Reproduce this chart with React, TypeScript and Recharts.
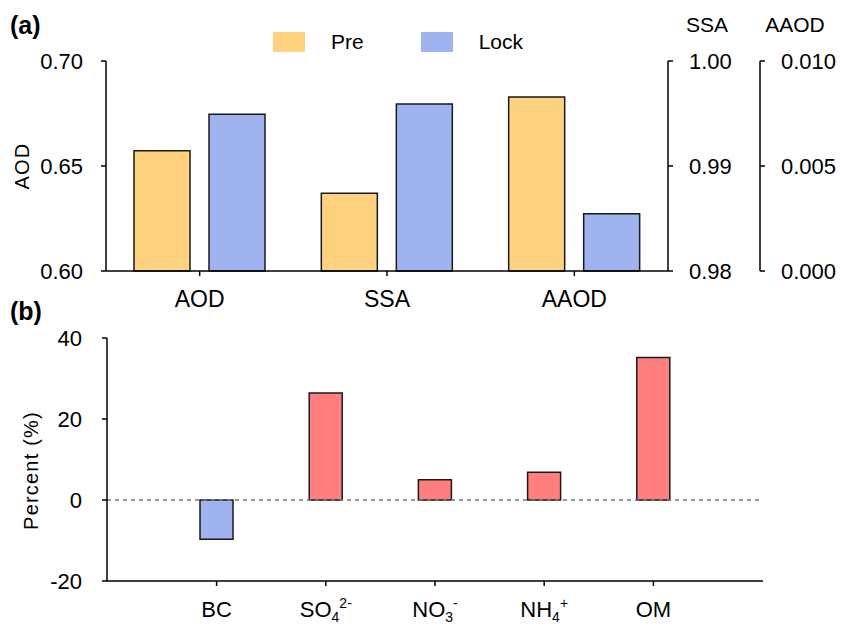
import React from "react";
import { BarChart, Bar, XAxis, YAxis, Legend, ReferenceLine, Cell } from "recharts";

// panel (a): AOD / SSA / AAOD before and during lockdown, each on its own axis
const groupNames = ["AOD", "SSA", "AAOD"];
const seriesNames = ["Pre", "Lock"];
const preValues = [0.6573, 0.9874, 0.00829];
const lockValues = [0.6746, 0.9959, 0.00273];

const aodTicks = [0.6, 0.65, 0.7];
const ssaTicks = [0.98, 0.99, 1.0];
const aaodTicks = [0, 0.005, 0.01];

// panel (b): percent change of aerosol species
const species = ["BC", "SO4", "NO3", "NH4", "OM"];
const speciesBase = ["BC", "SO", "NO", "NH", "OM"];
const speciesSub = ["", "4", "3", "4", ""];
const speciesSup = ["", "2-", "-", "+", ""];
const percentChange = [-9.7, 26.4, 5.0, 6.85, 35.2];
const percentTicks = [-20, 0, 20, 40];

const PRE = "#FFD280";
const LOCK = "#9EB3EF";
const UP = "#FF7F7F";
const FONT = "'Liberation Sans', Arial, sans-serif";

const panelA = groupNames.map((g, i) => {
  const row: Record<string, any> = { name: g };
  groupNames.forEach((k) => {
    row["pre" + k] = k === g ? preValues[i] : null;
    row["lock" + k] = k === g ? lockValues[i] : null;
  });
  return row;
});

const panelB = species.map((s, i) => ({ name: s, value: percentChange[i] }));

const axisLine = { stroke: "#000", strokeWidth: 1.5 };
const tickLine = { stroke: "#000", strokeWidth: 1.5 };
const tickFont = { fontSize: 22, fill: "#000" };

function SideTitle(props: any) {
  const { viewBox, text, dx, dy } = props;
  const cx = viewBox.x + dx;
  const cy = viewBox.y + viewBox.height / 2 + dy;
  return (
    <text
      x={cx}
      y={cy}
      transform={`rotate(-90 ${cx} ${cy})`}
      textAnchor="middle"
      dominantBaseline="central"
      fontSize={20}
      letterSpacing={1.2}
      fill="#000"
    >
      {text}
    </text>
  );
}

function TopTitle(props: any) {
  const { viewBox, text, dx } = props;
  return (
    <text x={viewBox.x + viewBox.width / 2 + dx} y={viewBox.y - 29} textAnchor="middle" fontSize={21} fill="#000">
      {text}
    </text>
  );
}

function SpeciesTick(props: any) {
  const { x, y, payload } = props;
  const i = payload.index;
  return (
    <text x={x} y={y + 29} textAnchor="middle" fontSize={22} fill="#000">
      {speciesBase[i]}
      {speciesSub[i] && (
        <tspan fontSize={14} dy={5}>
          {speciesSub[i]}
        </tspan>
      )}
      {speciesSup[i] && (
        <tspan fontSize={14} dy={-14}>
          {speciesSup[i]}
        </tspan>
      )}
    </text>
  );
}

function renderLegend(props: any) {
  const payload = props.payload || [];
  const items = seriesNames
    .map((n) => payload.find((p: any) => p.value === n))
    .filter(Boolean);
  return (
    <div style={{ display: "flex", alignItems: "center", paddingLeft: 273, fontSize: 21, fontFamily: FONT }}>
      {items.map((p: any) => (
        <div key={p.value} style={{ display: "flex", alignItems: "center", marginRight: 57 }}>
          <span style={{ width: 32, height: 20, background: p.color, marginRight: 26 }} />
          <span>{p.value}</span>
        </div>
      ))}
    </div>
  );
}

export default function App() {
  return (
    <div style={{ position: "absolute", left: 0, top: 0, width: 842, height: 627, fontFamily: FONT, background: "#fff" }}>
      <div style={{ position: "absolute", left: 10, top: 13, fontSize: 25, fontWeight: "bold", lineHeight: "25px" }}>(a)</div>
      <div style={{ position: "absolute", left: 10, top: 299, fontSize: 25, fontWeight: "bold", lineHeight: "25px" }}>(b)</div>

      <div style={{ position: "absolute", left: 0, top: 0 }}>
        <BarChart
          width={842}
          height={330}
          data={panelA}
          margin={{ top: 61, right: 0, bottom: 0, left: 0 }}
          barSize={56}
          barGap={19}
        >
          <XAxis
            xAxisId={0}
            dataKey="name"
            height={59}
            axisLine={axisLine}
            tickLine={tickLine}
            tickSize={5}
            tickMargin={15}
            tick={{ fontSize: 23, fill: "#000" }}
          />
          <XAxis xAxisId={1} dataKey="name" orientation="top" height={0} tick={false} tickLine={false} axisLine={axisLine} />
          <XAxis xAxisId={2} dataKey="name" orientation="top" height={0} hide />
          <YAxis
            yAxisId={0}
            width={106}
            domain={[0.6, 0.7]}
            ticks={aodTicks}
            tickFormatter={(v: number) => v.toFixed(2)}
            axisLine={axisLine}
            tickLine={tickLine}
            tickSize={5}
            tickMargin={18}
            tick={tickFont}
            label={<SideTitle text="AOD" dx={22} dy={0} />}
          />
          <YAxis
            yAxisId={1}
            orientation="right"
            width={92}
            domain={[0.98, 1.0]}
            ticks={ssaTicks}
            tickFormatter={(v: number) => v.toFixed(2)}
            axisLine={axisLine}
            tickLine={tickLine}
            tickSize={5}
            tickMargin={16}
            tick={tickFont}
            label={<TopTitle text="SSA" dx={-7} />}
          />
          <YAxis
            yAxisId={2}
            orientation="right"
            width={82}
            domain={[0, 0.01]}
            ticks={aaodTicks}
            tickFormatter={(v: number) => v.toFixed(3)}
            axisLine={axisLine}
            tickLine={tickLine}
            tickSize={5}
            tickMargin={16}
            tick={tickFont}
            label={<TopTitle text="AAOD" dx={-6} />}
          />
          <Legend
            layout="vertical"
            align="center"
            verticalAlign="middle"
            content={renderLegend}
            wrapperStyle={{ top: 30, left: 0, width: 842, height: 20 }}
          />
          {groupNames.map((g, i) => (
            <Bar
              key={"pre" + g}
              xAxisId={i}
              yAxisId={i}
              dataKey={"pre" + g}
              name="Pre"
              fill={PRE}
              stroke="#1a1a1a"
              strokeWidth={1.5}
              isAnimationActive={false}
            />
          ))}
          {groupNames.map((g, i) => (
            <Bar
              key={"lock" + g}
              xAxisId={i}
              yAxisId={i}
              dataKey={"lock" + g}
              name="Lock"
              fill={LOCK}
              stroke="#1a1a1a"
              strokeWidth={1.5}
              isAnimationActive={false}
            />
          ))}
        </BarChart>
      </div>

      <div style={{ position: "absolute", left: 0, top: 300 }}>
        <BarChart
          width={842}
          height={327}
          data={panelB}
          margin={{ top: 38, right: 79, bottom: 0, left: 0 }}
          barSize={33}
        >
          <XAxis
            xAxisId="b"
            dataKey="name"
            height={46}
            padding={{ left: 55, right: 55 }}
            axisLine={axisLine}
            tickLine={tickLine}
            tickSize={5}
            interval={0}
            tick={<SpeciesTick />}
          />
          <XAxis xAxisId="top" dataKey="name" orientation="top" height={0} tick={false} tickLine={false} axisLine={axisLine} />
          <YAxis
            yAxisId="p"
            width={107}
            domain={[-20, 40]}
            ticks={percentTicks}
            axisLine={axisLine}
            tickLine={tickLine}
            tickSize={5}
            tickMargin={20}
            tick={tickFont}
            label={<SideTitle text="Percent (%)" dx={31} dy={11} />}
          />
          <YAxis yAxisId="r" orientation="right" width={0} tick={false} tickLine={false} axisLine={axisLine} />
          <ReferenceLine xAxisId="b" yAxisId="p" y={0} stroke="#777" strokeWidth={1.5} strokeDasharray="4 4" />
          <Bar xAxisId="b" yAxisId="p" dataKey="value" stroke="#1a1a1a" strokeWidth={1.5} isAnimationActive={false}>
            {panelB.map((d) => (
              <Cell key={d.name} fill={d.value < 0 ? LOCK : UP} />
            ))}
          </Bar>
        </BarChart>
      </div>
    </div>
  );
}
